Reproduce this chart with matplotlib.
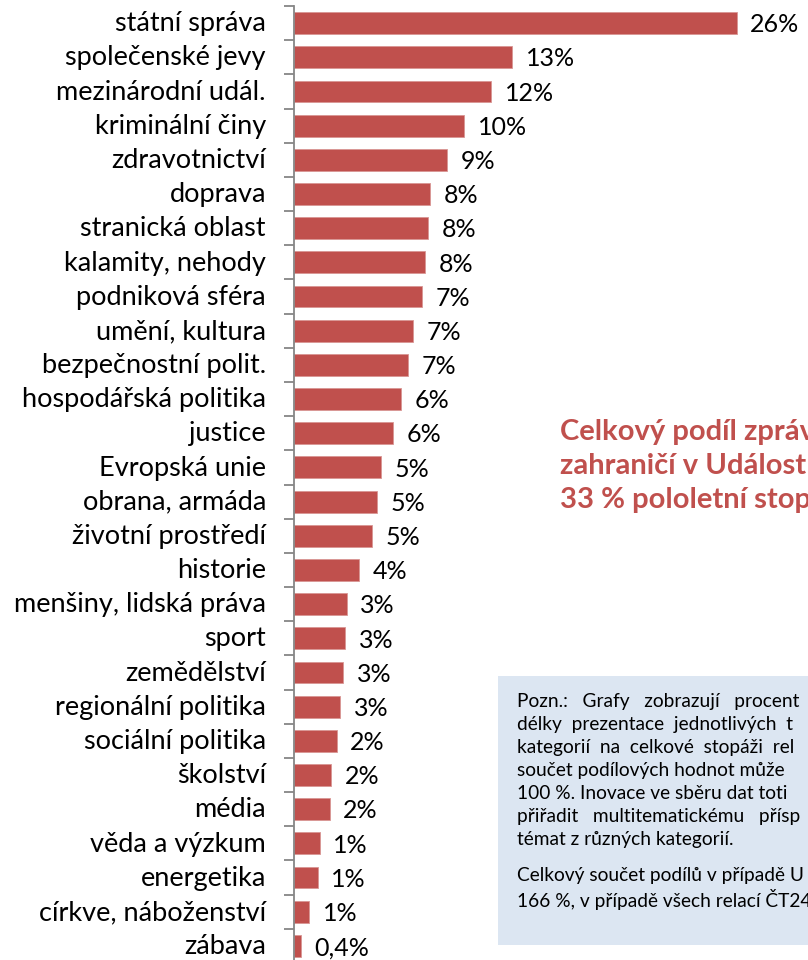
import matplotlib.pyplot as plt
from matplotlib.patches import Rectangle

plt.rcParams['font.family'] = ['Lato', 'DejaVu Sans']

# Categories, top to bottom
categories = ['státní správa', 'společenské jevy', 'mezinárodní udál.', 'kriminální činy',
              'zdravotnictví', 'doprava', 'stranická oblast', 'kalamity, nehody',
              'podniková sféra', 'umění, kultura', 'bezpečnostní polit.', 'hospodářská politika',
              'justice', 'Evropská unie', 'obrana, armáda', 'životní prostředí', 'historie',
              'menšiny, lidská práva', 'sport', 'zemědělství', 'regionální politika',
              'sociální politika', 'školství', 'média', 'věda a výzkum', 'energetika',
              'církve, náboženství', 'zábava']
values = [26.0, 12.8, 11.6, 10.0, 9.0, 8.0, 7.9, 7.7, 7.5, 7.0, 6.7, 6.3, 5.8, 5.1,
          4.9, 4.6, 3.8, 3.1, 3.0, 2.9, 2.7, 2.5, 2.2, 2.1, 1.5, 1.4, 0.9, 0.4]
labels = ['26%', '13%', '12%', '10%', '9%', '8%', '8%', '8%', '7%', '7%', '7%', '6%',
          '6%', '5%', '5%', '5%', '4%', '3%', '3%', '3%', '3%', '2%', '2%', '2%',
          '1%', '1%', '1%', '0,4%']

red = '#C0504D'
W, H = 808, 960
fig = plt.figure(figsize=(W / 100, H / 100), dpi=100)

# axes: left edge at the vertical axis line, runs off the right side
ax = fig.add_axes([294 / W, 1 - 963 / H, 514 / W, 957 / H])
n = len(categories)
ypos = list(range(n))
ax.barh(ypos, values, height=0.64, color=red, edgecolor='#D99694', linewidth=0.6)
ax.set_ylim(n - 0.5, -0.5)
ax.set_xlim(0, 30.2)

for y, v, lab in zip(ypos, values, labels):
    ax.text(v + 0.8, y + 0.05, lab, va='center', ha='left', fontsize=18, color='black')

ax.set_yticks([y - 0.5 for y in range(n + 1)], minor=False)
ax.set_yticklabels([])
ax.tick_params(axis='y', length=7, width=1.3, color='#868686', direction='out')
for y, c in zip(ypos, categories):
    ax.text(-1.65, y + 0.02, c, va='center', ha='right', fontsize=19.5, color='black')

ax.set_xticks([])
for s in ['top', 'right', 'bottom']:
    ax.spines[s].set_visible(False)
ax.spines['left'].set_color('#868686')
ax.spines['left'].set_linewidth(1.3)

# red summary text (runs off the right edge, as in the source)
for i, line in enumerate(['Celkový podíl zpráv', 'zahraničí v Událost', '33 % pololetní stop']):
    fig.text(560 / W, 1 - (432 + i * 34) / H, line, color=red, fontsize=21,
             fontweight='bold', va='center', ha='left')

# note box
fig.patches.append(Rectangle((498 / W, 1 - 945 / H), 400 / W, 269 / H,
                             transform=fig.transFigure, facecolor='#DCE6F2',
                             edgecolor='none', zorder=0))
note = ['Pozn.:   Grafy   zobrazují   procent',
        'délky  prezentace  jednotlivých  t',
        'kategorií  na  celkové  stopáži  rel',
        'součet podílových hodnot může',
        '100 %. Inovace ve sběru dat toti',
        'přiřadit   multitematickému   přísp',
        'témat z různých kategorií.']
for i, line in enumerate(note):
    fig.text(517 / W, 1 - (701 + i * 23.1) / H, line, fontsize=13.8, va='center', ha='left')
for i, line in enumerate(['Celkový součet podílů v případě U',
                          '166 %, v případě všech relací ČT24']):
    fig.text(517 / W, 1 - (876 + i * 23.1) / H, line, fontsize=13.8, va='center', ha='left')

fig.savefig('out.png', dpi=100)
